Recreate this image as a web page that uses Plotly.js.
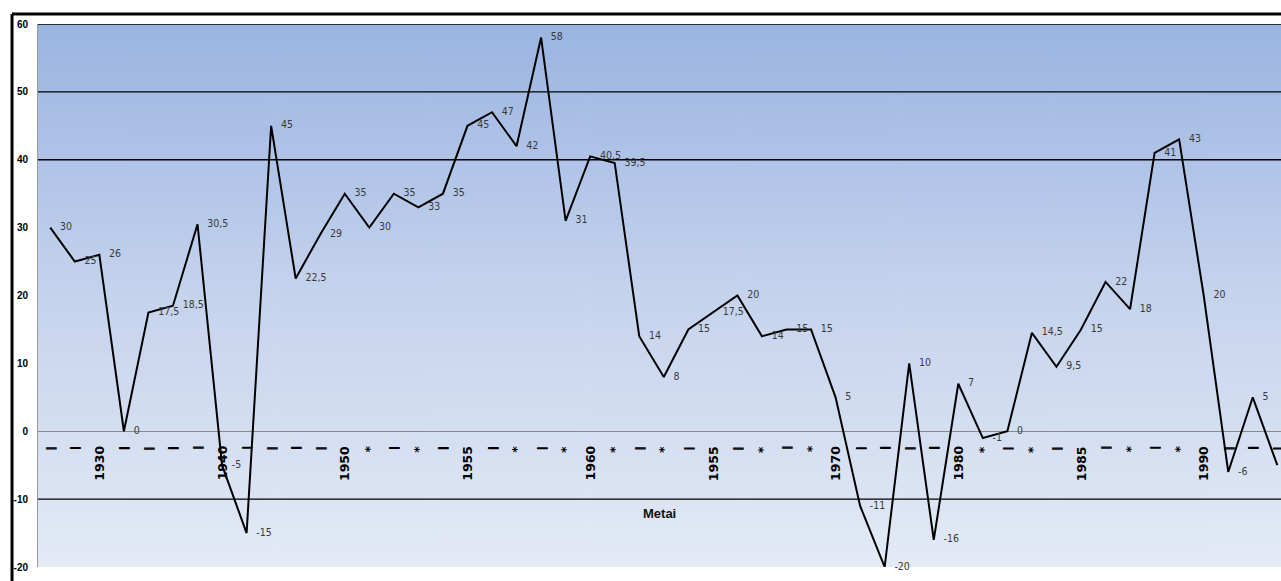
<!DOCTYPE html>
<html>
<head>
<meta charset="utf-8">
<script src="https://cdn.plot.ly/plotly-3.0.1.min.js"></script>
<style>
  html, body { margin: 0; padding: 0; background: #ffffff; }
  #chart { width: 1281px; height: 581px; }
</style>
</head>
<body>
<div id="chart"></div>
<script>
// Category labels (one per point)
const categories = ["|","|","1930","|","|","|","|","1940","|","|","|","|","1950","*","|","*","|","1955","|","*","|","*","1960","*","|","*","|","1955","|","*","|","*","1970","|","|","|","|","1980","*","|","*","|","1985","|","*","|","*","1990","|","|","|"];

// Series values
const values = [30,25,26,0,17.5,18.5,30.5,-5,-15,45,
                22.5,29,35,30,35,33,35,45,47,42,
                58,31,40.5,39.5,14,8,15,17.5,20,14,
                15,15,5,-11,-20,10,-16,7,-1,0,
                14.5,9.5,15,22,18,41,43,20,-6,5,
                -5];

// Y axis ticks and gridlines drawn in the original
const yTicks = [-20,-10,0,10,20,30,40,50,60];
const gridValues = [60,50,40,-10];

const axisTitle = "Metai";

// ---- build ----
const xs = categories.map((_, i) => i);
const labels = values.map(v => String(v).replace('.', ','));

// vertical gradient background as an image
const cv = document.createElement('canvas');
cv.width = 8; cv.height = 543;
const ctx = cv.getContext('2d');
const g = ctx.createLinearGradient(0, 0, 0, 543);
g.addColorStop(0, '#9ab4e1');
g.addColorStop(0.5, '#c5d3ed');
g.addColorStop(1, '#e4eaf6');
ctx.fillStyle = g;
ctx.fillRect(0, 0, 8, 543);
const bgURL = cv.toDataURL('image/png');

const trace = {
  x: xs,
  y: values,
  type: 'scatter',
  mode: 'lines+markers+text',
  line: { color: '#000000', width: 2 },
  marker: { size: 14, opacity: 0, color: '#000000' },
  text: labels,
  textposition: 'middle right',
  textfont: { family: '"Liberation Sans Narrow", "DejaVu Sans Condensed", sans-serif', size: 10.5, color: '#3a3a3a' },
  cliponaxis: false,
  hoverinfo: 'skip',
  showlegend: false
};

const shapes = gridValues.map(v => ({
  type: 'line', xref: 'paper', yref: 'y', x0: 0, x1: 1, y0: v, y1: v,
  line: { color: '#000000', width: 1.3 }, layer: 'below'
}));
// outer chart frame (top and left edges)
shapes.push({ type: 'line', xref: 'paper', yref: 'paper', x0: -0.0209, x1: 1.01, y0: 1.0184, y1: 1.0184,
  line: { color: '#000000', width: 3 } });
shapes.push({ type: 'line', xref: 'paper', yref: 'paper', x0: -0.0209, x1: -0.0209, y0: 1.0184, y1: -0.05,
  line: { color: '#000000', width: 3 } });

const annotations = categories.map((c, i) => {
  const isBar = c === '|';
  return {
    x: i, y: isBar ? -1.95 : -1.85, xref: 'x', yref: 'y',
    text: c, showarrow: false, textangle: -90,
    xanchor: 'center', yanchor: 'top',
    font: {
      family: '"DejaVu Sans", sans-serif', size: isBar ? 10.5 : 12.5, color: '#000000', weight: 'bold',
      shadow: isBar ? '0.9px 0px 0px #000000' : 'none'
    }
  };
});
annotations.push({
  x: 0.5, y: -12.1, xref: 'paper', yref: 'y',
  text: axisTitle, showarrow: false, xanchor: 'center', yanchor: 'middle',
  font: { family: '"Liberation Sans", Arial, sans-serif', size: 13, color: '#111111', weight: 'bold' }
});

const layout = {
  width: 1281, height: 581,
  margin: { l: 38, r: 0, t: 24, b: 14, pad: 0 },
  paper_bgcolor: '#ffffff',
  plot_bgcolor: 'rgba(0,0,0,0)',
  showlegend: false,
  xaxis: {
    range: [-0.5, 50.15], showgrid: false, zeroline: false, showline: false,
    showticklabels: false, ticks: '', fixedrange: true
  },
  yaxis: {
    range: [-20, 60], tickvals: yTicks, ticktext: yTicks.map(String),
    showgrid: false, zeroline: true, zerolinecolor: '#8a8a8a', zerolinewidth: 1,
    showline: true, linecolor: '#9a9a9a', linewidth: 1,
    ticks: '', ticklabelstandoff: 7,
    tickfont: { family: '"Liberation Sans", Arial, sans-serif', size: 10, color: '#000000', weight: 'bold' },
    fixedrange: true
  },
  images: [{
    source: bgURL, xref: 'paper', yref: 'paper', x: 0, y: 1, sizex: 1, sizey: 1,
    xanchor: 'left', yanchor: 'top', sizing: 'stretch', layer: 'below'
  }],
  shapes: shapes,
  annotations: annotations
};

Plotly.newPlot('chart', [trace], layout, { staticPlot: true, displayModeBar: false });
</script>
</body>
</html>
